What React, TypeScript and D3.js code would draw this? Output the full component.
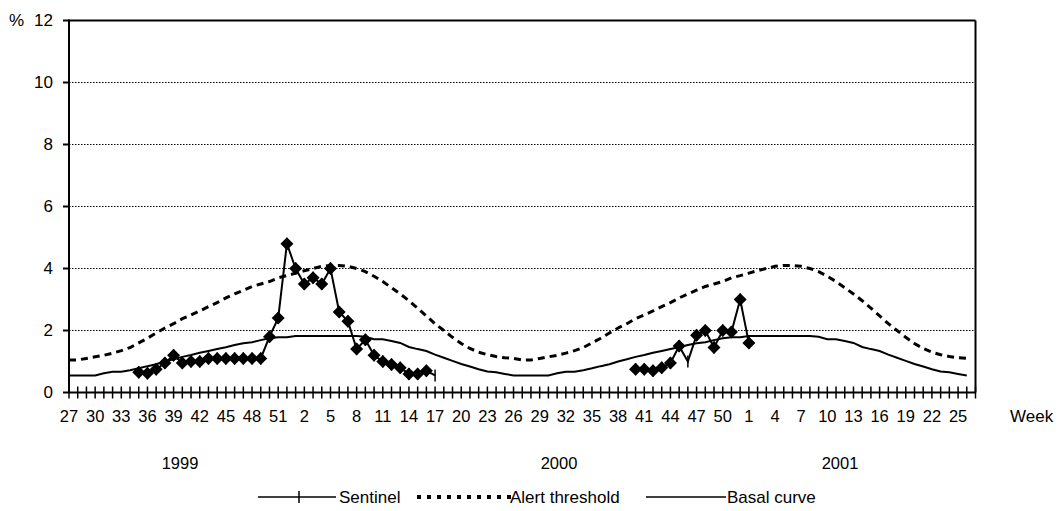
import React from 'react';
import * as d3 from 'd3';

// categories: weeks 27/1999 .. 26/2001
const weeks1999 = d3.range(27, 53);
const weeks2000 = d3.range(1, 53);
const weeks2001 = d3.range(1, 27);
const years = ['1999', '2000', '2001'];
const yTicks = [0, 2, 4, 6, 8, 10, 12];

// sentinel values, season 1: week 35/1999 -> week 17/2000
const sentinelSeason1 = [0.65, 0.62, 0.75, 0.95, 1.2, 0.95, 1.0, 1.0, 1.1, 1.1, 1.1, 1.1, 1.1, 1.1, 1.1,
  1.8, 2.4, 4.8, 4.0, 3.5, 3.7, 3.5, 4.0, 2.6, 2.3, 1.4, 1.7, 1.2, 1.0, 0.9, 0.8, 0.6, 0.6, 0.7, 0.55];
// sentinel values, season 2: week 40/2000 -> week 1/2001
const sentinelSeason2 = [0.75, 0.75, 0.7, 0.8, 0.95, 1.5, 1.0, 1.85, 2.0, 1.45, 2.0, 1.95, 3.0, 1.6];
// points drawn without the diamond
const plainPoints = ['2000-17', '2000-46'];

// alert threshold, by season (weeks 27..52, 1..26)
const alert9900 = [1.05, 1.05, 1.1, 1.15, 1.2, 1.27, 1.35, 1.45, 1.6, 1.75, 1.92, 2.08, 2.22, 2.38, 2.5, 2.63,
  2.77, 2.9, 3.05, 3.18, 3.3, 3.42, 3.5, 3.58, 3.7, 3.77,
  3.85, 3.93, 4.0, 4.07, 4.1, 4.1, 4.07, 4.0, 3.9, 3.75, 3.58, 3.38, 3.18, 2.96, 2.72, 2.47, 2.22, 2.0,
  1.78, 1.58, 1.42, 1.3, 1.22, 1.16, 1.12, 1.1];
const alert0001 = [1.05, 1.05, 1.1, 1.15, 1.2, 1.27, 1.35, 1.45, 1.6, 1.75, 1.92, 2.08, 2.22, 2.38, 2.5, 2.63,
  2.77, 2.9, 3.05, 3.18, 3.3, 3.42, 3.5, 3.58, 3.7, 3.77,
  3.85, 3.93, 4.0, 4.07, 4.1, 4.1, 4.07, 4.0, 3.9, 3.75, 3.58, 3.38, 3.18, 2.96, 2.72, 2.47, 2.22, 2.0,
  1.78, 1.58, 1.42, 1.3, 1.22, 1.16, 1.12, 1.1];

// basal curve, by season (weeks 27..52, 1..26)
const basal9900 = [0.55, 0.55, 0.55, 0.55, 0.62, 0.67, 0.67, 0.72, 0.78, 0.85, 0.91, 1.0, 1.07, 1.15, 1.21,
  1.28, 1.34, 1.4, 1.46, 1.53, 1.59, 1.62, 1.69, 1.75, 1.78, 1.78,
  1.82, 1.82, 1.82, 1.82, 1.82, 1.82, 1.82, 1.82, 1.8, 1.72, 1.72, 1.66, 1.6, 1.47, 1.4, 1.34, 1.22, 1.12,
  1.02, 0.92, 0.84, 0.75, 0.68, 0.65, 0.6, 0.55];
const basal0001 = [0.55, 0.55, 0.55, 0.55, 0.62, 0.67, 0.67, 0.72, 0.78, 0.85, 0.91, 1.0, 1.07, 1.15, 1.21,
  1.28, 1.34, 1.4, 1.46, 1.53, 1.59, 1.62, 1.69, 1.75, 1.78, 1.78,
  1.82, 1.82, 1.82, 1.82, 1.82, 1.82, 1.82, 1.82, 1.8, 1.72, 1.72, 1.66, 1.6, 1.47, 1.4, 1.34, 1.22, 1.12,
  1.02, 0.92, 0.84, 0.75, 0.68, 0.65, 0.6, 0.55];

const FONT = '"Liberation Sans", Arial, sans-serif';

const App = () => {
  const width = 1058, height = 511;
  const cats = [
    ...weeks1999.map(w => ({ y: '1999', w })),
    ...weeks2000.map(w => ({ y: '2000', w })),
    ...weeks2001.map(w => ({ y: '2001', w })),
  ];
  const key = (c) => `${c.y}-${c.w}`;
  const idx = new Map(cats.map((c, i) => [key(c), i]));

  const x = d3.scaleLinear().domain([0, cats.length]).range([69, 975.5]);
  const y = d3.scaleLinear().domain([0, 12]).range([392.5, 20.5]);

  const alert = [...alert9900, ...alert0001].map((v, i) => [i, v]);
  const basal = [...basal9900, ...basal0001].map((v, i) => [i, v]);
  const s1start = idx.get('1999-35');
  const s2start = idx.get('2000-40');
  const sent1 = sentinelSeason1.map((v, i) => [s1start + i, v]);
  const sent2 = sentinelSeason2.map((v, i) => [s2start + i, v]);
  const plain = new Set(plainPoints.map(k => idx.get(k)));

  const line = d3.line().x(d => x(d[0])).y(d => y(d[1]));
  const diamond = (cx, cy, r = 6.5) => `M${cx},${cy - r}L${cx + r},${cy}L${cx},${cy + r}L${cx - r},${cy}Z`;

  const tickIdx = d3.range(0, cats.length + 1);
  const labelIdx = d3.range(0, cats.length, 3);

  return (
    <svg width={width} height={height} style={{ position: 'absolute', left: 0, top: 0, background: '#fff' }}
      fontFamily={FONT}>
      {/* gridlines */}
      {yTicks.filter(t => t > 0 && t < 12).map(t => (
        <line key={t} x1={x(0)} x2={x(cats.length)} y1={y(t)} y2={y(t)}
          stroke="#000" strokeWidth={1} strokeDasharray="1.5,1.5" />
      ))}
      {/* plot border */}
      <line x1={x(0)} x2={x(cats.length)} y1={y(12)} y2={y(12)} stroke="#000" strokeWidth={2} />
      <line x1={x(cats.length)} x2={x(cats.length)} y1={y(12)} y2={y(0)} stroke="#000" strokeWidth={2} />
      <line x1={x(0)} x2={x(0)} y1={y(12) - 1} y2={y(0)} stroke="#000" strokeWidth={2} />
      <line x1={x(0)} x2={x(cats.length)} y1={y(0)} y2={y(0)} stroke="#000" strokeWidth={2} />

      {/* y axis ticks and labels */}
      {yTicks.map(t => (
        <g key={t}>
          <line x1={x(0) - 6} x2={x(0)} y1={y(t)} y2={y(t)} stroke="#000" strokeWidth={2} />
          <text x={53} y={y(t)} dy="0.35em" textAnchor="end" fontSize={17}>{t}</text>
        </g>
      ))}
      <text x={9} y={y(12)} dy="0.35em" fontSize={17}>%</text>

      {/* x axis ticks and labels */}
      {tickIdx.map(i => (
        <line key={i} x1={x(i)} x2={x(i)} y1={y(0) - 6} y2={y(0) + 6} stroke="#000" strokeWidth={1.5} />
      ))}
      {labelIdx.map(i => (
        <text key={i} x={x(i)} y={421.5} textAnchor="middle" fontSize={16.5}>{cats[i].w}</text>
      ))}
      <text x={1010} y={421.5} fontSize={17}>Week</text>
      {years.map(yr => {
        const pos = { '1999': 180, '2000': 559, '2001': 840 }[yr];
        return <text key={yr} x={pos} y={468.5} textAnchor="middle" fontSize={16.5}>{yr}</text>;
      })}

      {/* basal curve */}
      <path d={line(basal)} fill="none" stroke="#000" strokeWidth={2} />
      {/* alert threshold */}
      <path d={line(alert)} fill="none" stroke="#000" strokeWidth={3} strokeDasharray="7,5" />
      {/* sentinel */}
      {[sent1, sent2].map((s, k) => (
        <g key={k}>
          <path d={line(s)} fill="none" stroke="#000" strokeWidth={2} />
          {s.map(d => (
            <line key={d[0]} x1={x(d[0])} x2={x(d[0])} y1={y(d[1]) - 6} y2={y(d[1]) + 6} stroke="#000" strokeWidth={1.5} />
          ))}
          {s.filter(d => !plain.has(d[0])).map(d => (
            <path key={'d' + d[0]} d={diamond(x(d[0]), y(d[1]))} fill="#000" />
          ))}
        </g>
      ))}

      {/* legend */}
      <g fontSize={17}>
        <line x1={258} x2={336} y1={497} y2={497} stroke="#000" strokeWidth={1.5} />
        <line x1={299} x2={299} y1={491} y2={503} stroke="#000" strokeWidth={1.5} />
        <text x={339} y={503}>Sentinel</text>
        <line x1={417} x2={511} y1={497} y2={497} stroke="#000" strokeWidth={4} strokeDasharray="4,6" />
        <text x={510} y={503}>Alert threshold</text>
        <line x1={646} x2={726} y1={497} y2={497} stroke="#000" strokeWidth={1.5} />
        <text x={727} y={503}>Basal curve</text>
      </g>
    </svg>
  );
};

export default App;
